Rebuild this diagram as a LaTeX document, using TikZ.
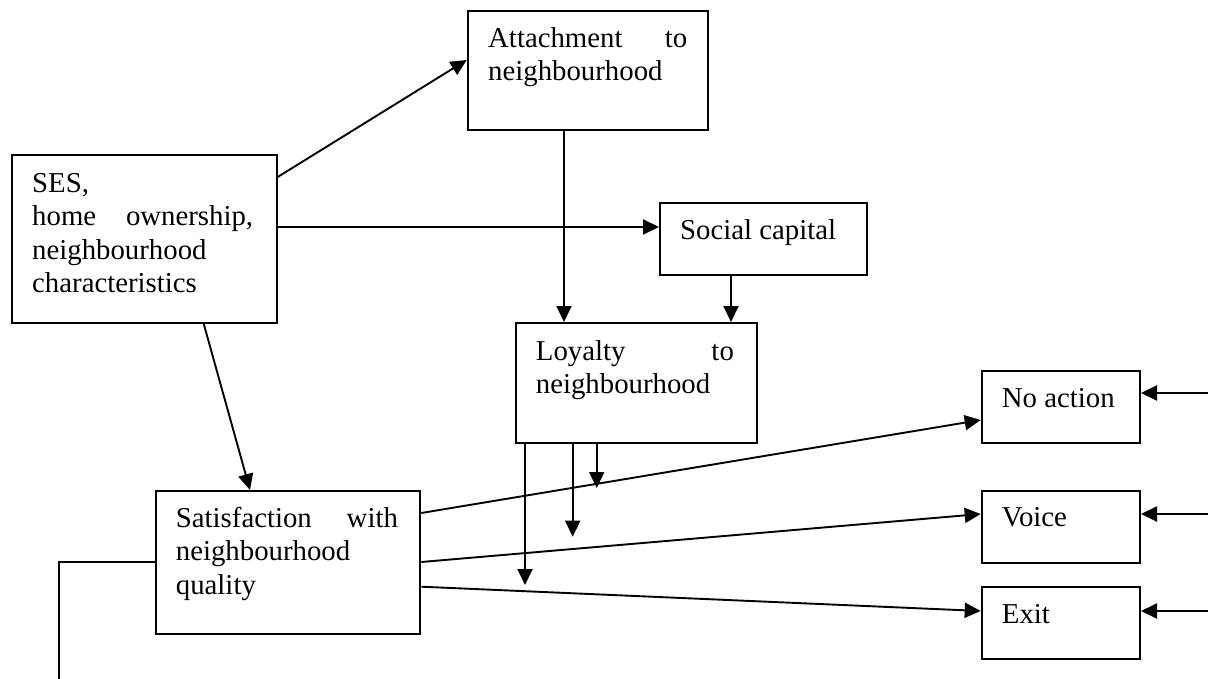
\documentclass[tikz,border=0pt]{standalone}
\usepackage{fontspec}
\setmainfont{Liberation Serif}
\usetikzlibrary{arrows.meta}
\begin{document}
\begin{tikzpicture}[x=1pt,y=-1pt,
  box/.style={draw,line width=2pt,inner sep=0pt,anchor=north west},
  txt/.style={anchor=base west,inner sep=0pt,align=left,font=\fontsize{28.8}{33.5}\selectfont},
  conn/.style={line width=1.9pt},
  arr/.style={conn,-{Triangle[length=16pt,width=15pt]}}]
\useasboundingbox (0,0) rectangle (1208,679);
% boxes
\node[box,minimum width=265pt,minimum height=167.7pt] (ses) at (10.7,154) {};
\node[box,minimum width=240.3pt,minimum height=119pt] (att) at (466.7,10) {};
\node[box,minimum width=207pt,minimum height=72pt] (soc) at (659,202) {};
\node[box,minimum width=240.7pt,minimum height=120pt] (loy) at (515,322) {};
\node[box,minimum width=264.3pt,minimum height=143pt] (sat) at (155,490) {};
\node[box,minimum width=158.3pt,minimum height=71.7pt] (noa) at (980.7,370) {};
\node[box,minimum width=158.3pt,minimum height=71.7pt] (voi) at (980.7,490) {};
\node[box,minimum width=158.3pt,minimum height=71.7pt] (exi) at (980.7,586) {};
% texts
\node[txt,text width=221pt] (sesT) at (32,192.5) {SES,\\home\hfill ownership,\\neighbourhood\\characteristics};
\node[txt,text width=199pt] (attT) at (488,47.3) {Attachment\hfill to\\neighbourhood};
\node[txt] (socT) at (680,240) {Social capital};
\node[txt,text width=198pt] (loyT) at (535.7,360) {Loyalty\hfill to\\neighbourhood};
\node[txt,text width=222pt] (satT) at (175.7,527) {Satisfaction\hfill with\\neighbourhood\\quality};
\node[txt] (noaT) at (1001.7,407.7) {No action};
\node[txt] (voiT) at (1001.7,526.7) {Voice};
\node[txt] (exiT) at (1001.7,623) {Exit};
% free ends
\coordinate (l1) at (525,585);
\coordinate (l2) at (572.7,536.7);
\coordinate (l3) at (596.7,488);
\coordinate (rn) at (1208,393);
\coordinate (rv) at (1208,514);
\coordinate (re) at (1208,611);
\coordinate (fb) at (59,679);
% connectors
\draw[arr] ([yshift=-23pt]ses.north east) -- ([yshift=-50pt]att.north west);
\draw[arr] ([yshift=-73pt]ses.north east) -- ([yshift=-25pt]soc.north west);
\draw[arr] ([xshift=193pt]ses.south west) -- ([xshift=95pt]sat.north west);
\draw[arr] ([xshift=97.3pt]att.south west) -- ([xshift=49pt]loy.north west);
\draw[arr] ([xshift=72pt]soc.south west) -- ([xshift=216pt]loy.north west);
\draw[arr] ([xshift=10pt]loy.south west) -- (l1);
\draw[arr] ([xshift=57.7pt]loy.south west) -- (l2);
\draw[arr] ([xshift=81.7pt]loy.south west) -- (l3);
\draw[arr] ([yshift=-23pt]sat.north east) -- ([yshift=-50pt]noa.north west);
\draw[arr] ([yshift=-72pt]sat.north east) -- ([yshift=-24pt]voi.north west);
\draw[arr] ([yshift=-96.7pt]sat.north east) -- ([yshift=-25pt]exi.north west);
\draw[arr] (rn) -- ([yshift=-23pt]noa.north east);
\draw[arr] (rv) -- ([yshift=-24pt]voi.north east);
\draw[arr] (re) -- ([yshift=-25pt]exi.north east);
\draw[conn] ([yshift=-72pt]sat.north west) -| (fb);
\end{tikzpicture}
\end{document}
